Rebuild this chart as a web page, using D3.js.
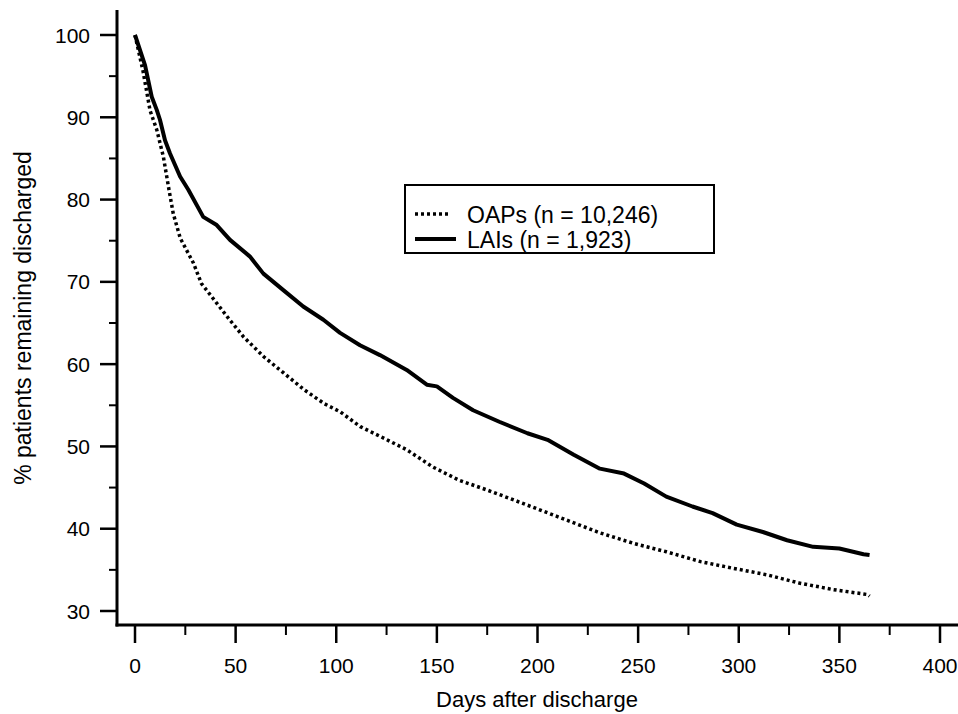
<html>
<head>
<meta charset="utf-8">
<script src="https://d3js.org/d3.v7.min.js"></script>
<style>
  html, body { margin:0; padding:0; background:#fff; }
  svg { display:block; }
  text { font-family: "Liberation Sans", Arial, sans-serif; fill:#000; }
</style>
</head>
<body>
<svg></svg>
<script>
// LAI curve (solid)
const laiDays = [0, 5, 8.3, 10.8, 12.4, 14.9, 17.4, 22.4, 26.5, 33.9, 40.6, 47.2, 57, 63.8, 73.7, 83.6, 93.6,
  101.9, 111.8, 121.7, 135, 145, 150, 158, 168, 181, 195, 205, 218, 231, 243, 253, 264, 277, 287,
  299, 312, 324, 337, 350, 362, 365]
const laiPct = [100, 96.3, 92.5, 90.9, 89.7, 87.2, 85.6, 82.8, 81.2, 77.9, 76.9, 75.1, 73.1, 71, 69, 67, 65.4,
  63.8, 62.3, 61.1, 59.3, 57.5, 57.3, 55.9, 54.4, 53.0, 51.6, 50.8, 49.0, 47.3, 46.7, 45.5, 43.9, 42.7, 41.9,
  40.5, 39.6, 38.6, 37.8, 37.6, 36.9, 36.8]

// OAP curve (dotted)
const oapDays = [0, 4, 7.5, 10.8, 14.1, 16.6, 19, 22.5, 29, 33, 40, 47, 54, 64, 74, 84, 94,
  102, 112, 122, 135, 148, 161, 175, 186, 200, 231, 248, 264, 281, 297, 314, 330, 347, 364, 365]
const oapPct = [100, 95.6, 90.8, 88.5, 85.2, 81.6, 78.3, 75.3, 72.3, 69.8, 67.6, 65.4, 63.3, 60.9, 58.9, 56.9, 55.2,
  54.2, 52.4, 51.2, 49.6, 47.5, 45.9, 44.7, 43.7, 42.4, 39.5, 38.2, 37.2, 36.0, 35.2, 34.4, 33.4, 32.6, 32.0, 31.8]

const yTicks = [30, 40, 50, 60, 70, 80, 90, 100]
const yMinor = [35, 45, 55, 65, 75, 85, 95]
const xTicks = [0, 50, 100, 150, 200, 250, 300, 350, 400]
const xMinor = [25, 75, 125, 175, 225, 275, 325, 375]

const legendLabels = ["OAPs (n = 10,246)", "LAIs (n = 1,923)"]

const W = 958, H = 714
const axisX = 117, axisY = 625

const svg = d3.select("svg").attr("width", W).attr("height", H)

const x = d3.scaleLinear().domain([0, 400]).range([135, 940])
const y = d3.scaleLinear().domain([30, 100]).range([611, 35])

// y axis
const gy = svg.append("g").attr("transform", "translate(" + axisX + ",0)")
gy.append("line").attr("x1", 0).attr("x2", 0).attr("y1", 10).attr("y2", axisY + 1.5)
  .attr("stroke", "#000").attr("stroke-width", 3)
gy.selectAll(".maj").data(yTicks).enter().append("line")
  .attr("x1", -17).attr("x2", 0).attr("y1", d => y(d)).attr("y2", d => y(d))
  .attr("stroke", "#000").attr("stroke-width", 2.5)
gy.selectAll(".min").data(yMinor).enter().append("line")
  .attr("x1", -8).attr("x2", 0).attr("y1", d => y(d)).attr("y2", d => y(d))
  .attr("stroke", "#000").attr("stroke-width", 2)
gy.selectAll(".lab").data(yTicks).enter().append("text")
  .attr("x", -27).attr("y", d => y(d) + 7.5)
  .attr("text-anchor", "end").style("font-size", "21px")
  .text(d => d)

// x axis
const gx = svg.append("g").attr("transform", "translate(0," + axisY + ")")
gx.append("line").attr("x1", axisX - 1.5).attr("x2", W).attr("y1", 0).attr("y2", 0)
  .attr("stroke", "#000").attr("stroke-width", 3)
gx.selectAll(".maj").data(xTicks).enter().append("line")
  .attr("x1", d => x(d)).attr("x2", d => x(d)).attr("y1", 0).attr("y2", 18)
  .attr("stroke", "#000").attr("stroke-width", 2.5)
gx.selectAll(".min").data(xMinor).enter().append("line")
  .attr("x1", d => x(d)).attr("x2", d => x(d)).attr("y1", 0).attr("y2", 10)
  .attr("stroke", "#000").attr("stroke-width", 2)
gx.selectAll(".lab").data(xTicks).enter().append("text")
  .attr("x", d => x(d)).attr("y", 48)
  .attr("text-anchor", "middle").style("font-size", "21px")
  .text(d => d)

// axis titles
svg.append("text")
  .attr("x", 537).attr("y", 707)
  .attr("text-anchor", "middle").style("font-size", "22px")
  .text("Days after discharge")

svg.append("text")
  .attr("transform", "translate(31,318) rotate(-90)")
  .attr("text-anchor", "middle").style("font-size", "23px")
  .text("% patients remaining discharged")

// curves
const line = d3.line().x(d => x(d[0])).y(d => y(d[1]))

svg.append("path")
  .datum(d3.zip(oapDays, oapPct))
  .attr("d", line)
  .attr("fill", "none").attr("stroke", "#000")
  .attr("stroke-width", 3.5).attr("stroke-dasharray", "3,3")

svg.append("path")
  .datum(d3.zip(laiDays, laiPct))
  .attr("d", line)
  .attr("fill", "none").attr("stroke", "#000")
  .attr("stroke-width", 4).attr("stroke-linejoin", "round")

// legend
const lg = svg.append("g")
lg.append("rect").attr("x", 405).attr("y", 185).attr("width", 309).attr("height", 68)
  .attr("fill", "#fff").attr("stroke", "#000").attr("stroke-width", 2)
lg.append("line").attr("x1", 415).attr("x2", 450).attr("y1", 214).attr("y2", 214)
  .attr("stroke", "#000").attr("stroke-width", 3.5).attr("stroke-dasharray", "3,3")
lg.append("line").attr("x1", 415).attr("x2", 456).attr("y1", 239).attr("y2", 239)
  .attr("stroke", "#000").attr("stroke-width", 4)
lg.selectAll("text").data(legendLabels).enter().append("text")
  .attr("x", 467).attr("y", (d, i) => 223 + i * 25)
  .style("font-size", "23px")
  .text(d => d)
</script>
</body>
</html>
